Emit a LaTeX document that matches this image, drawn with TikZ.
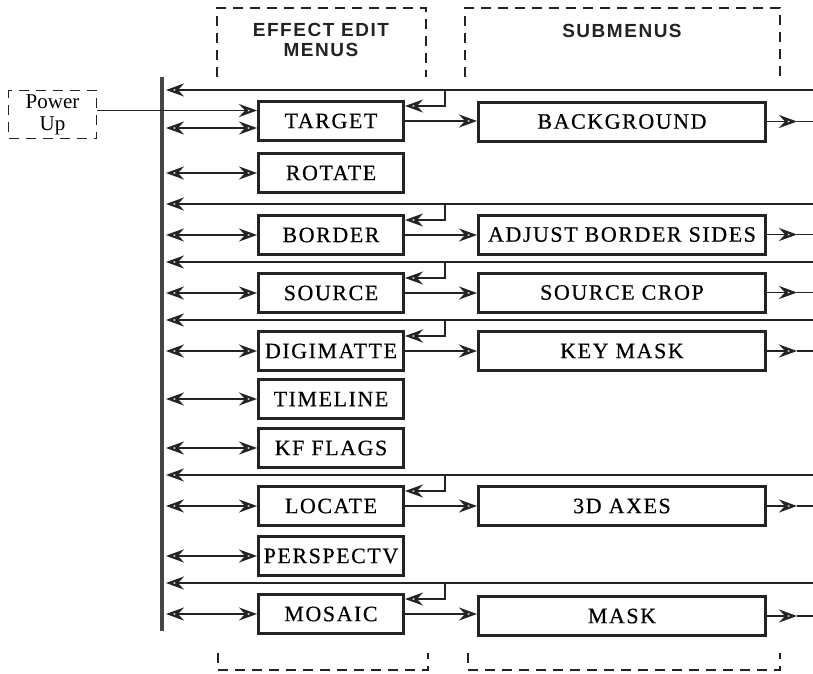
\documentclass[tikz,border=0pt]{standalone}
\usepackage{fontspec}
\setmainfont{Liberation Serif}
\newfontfamily\boxfont{Liberation Serif}[LetterSpace=7, FakeBold=0.5]
\newfontfamily\headfont{Liberation Sans Bold}[LetterSpace=8]
\usetikzlibrary{
    arrows.meta,
    positioning,
    calc
}
\definecolor{ink}{RGB}{35,35,35}
\definecolor{busgray}{RGB}{70,70,70}
\tikzset{
    % Menu boxes
    menubox/.style={
        rectangle,
        draw=ink,
        line width=3pt,
        minimum width=145pt,
        minimum height=39pt,
        inner sep=0pt,
        font=\boxfont\fontsize{22}{22}\selectfont
    },
    submenubox/.style={
        menubox,
        minimum width=287pt
    },
    powerbox/.style={
        rectangle,
        draw=ink,
        line width=1.4pt,
        dash pattern=on 10pt off 7pt,
        minimum width=88pt,
        minimum height=48pt,
        inner sep=0pt,
        align=center,
        font=\fontsize{21}{22}\selectfont
    },
    % Connectors
    wire/.style={
        line width=1.4pt,
        draw=ink
    },
    flow/.style={
        wire,
        -{Stealth[open, length=18pt, width=13pt, inset=6pt, line width=2.2pt]}
    },
    bothflow/.style={
        wire,
        {Stealth[open, length=18pt, width=13pt, inset=6pt, line width=2.2pt]}-{Stealth[open, length=18pt, width=13pt, inset=6pt, line width=2.2pt]}
    },
    bus/.style={
        line width=4.5pt,
        draw=busgray
    },
    % Headers
    bracket/.style={
        line width=1.4pt,
        draw=ink,
        dash pattern=on 10pt off 7pt
    },
    header/.style={
        align=center,
        text=ink,
        font=\headfont\fontsize{19}{20}\selectfont
    }
}
\begin{document}
\begin{tikzpicture}[x=1pt, y=-1pt]

    \useasboundingbox (0,0) rectangle (813,673);

    % Headers
    \draw[bracket] (217,77) -- (217,8) -- (426,8) -- (426,77);
    \draw[bracket] (465,77) -- (465,8) -- (780,8) -- (780,77);
    \node[header] (hmenus) at (321,40) {EFFECT EDIT\\MENUS};
    \node[header] (hsub) at (622,31) {SUBMENUS};
    \draw[bracket] (218,653) -- (218,670) -- (428,670) -- (428,653);
    \draw[bracket] (468,653) -- (468,670) -- (780,670) -- (780,653);

    % Reference columns
    \coordinate (bus) at (166,0);
    \coordinate (tap) at (445,0);
    \coordinate (outtip) at (797,0);
    \coordinate (edge) at (813,0);

    % Bus
    \coordinate (bustop) at (162,77);
    \coordinate (busbot) at (162,631);
    \draw[bus] (bustop) -- (busbot);

    % Effect edit menus
    \foreach \name/\label/\y in {target/TARGET/121, rotate/ROTATE/173,
        border/BORDER/235, source/SOURCE/293, digimatte/DIGIMATTE/351,
        timeline/TIMELINE/399, kfflags/KF FLAGS/448, locate/LOCATE/506,
        perspectv/PERSPECTV/556, mosaic/MOSAIC/614} {
        \node[menubox] (\name) at (331,\y) {\label};
    }

    % Submenus
    \foreach \name/\label/\y in {background/BACKGROUND/121.5,
        adjborder/ADJUST BORDER SIDES/234.5, srccrop/SOURCE CROP/292.5,
        keymask/KEY MASK/351, axes/3D AXES/506, mask/MASK/616} {
        \node[submenubox] (\name) at (622,\y) {\label};
    }

    % Power up
    \node[powerbox] (power) at (52.5,114.5) {Power\\Up};
    \draw[flow] ([yshift=4pt]power.east) -- ([yshift=4pt]power.east -| target.west);

    % Bus to menus
    \draw[bothflow] ([yshift=-7pt]target.west -| bus) -- ([yshift=-7pt]target.west);
    \foreach \name in {rotate, border, source, digimatte, timeline,
        kfflags, locate, perspectv, mosaic} {
        \draw[bothflow] (\name.west -| bus) -- (\name.west);
    }

    % Returns to the bus
    \foreach \name in {target, border, source, digimatte, locate, mosaic} {
        \path ([yshift=10pt]\name.north) coordinate (ret\name);
        \draw[flow] (ret\name -| edge) -- (ret\name -| bus);
        \draw[flow] (ret\name -| tap) |- ([yshift=-6pt]\name.north east);
    }

    % Menus to submenus
    \foreach \menu/\sub in {target/background, border/adjborder,
        source/srccrop, digimatte/keymask, locate/axes, mosaic/mask} {
        \draw[flow] (\menu.east) -- (\menu.east -| \sub.west);
        \draw[flow] (\sub.east) -- (\sub.east -| outtip);
        \draw[wire] (\sub.east -| outtip) -- (\sub.east -| edge);
    }

\end{tikzpicture}
\end{document}
